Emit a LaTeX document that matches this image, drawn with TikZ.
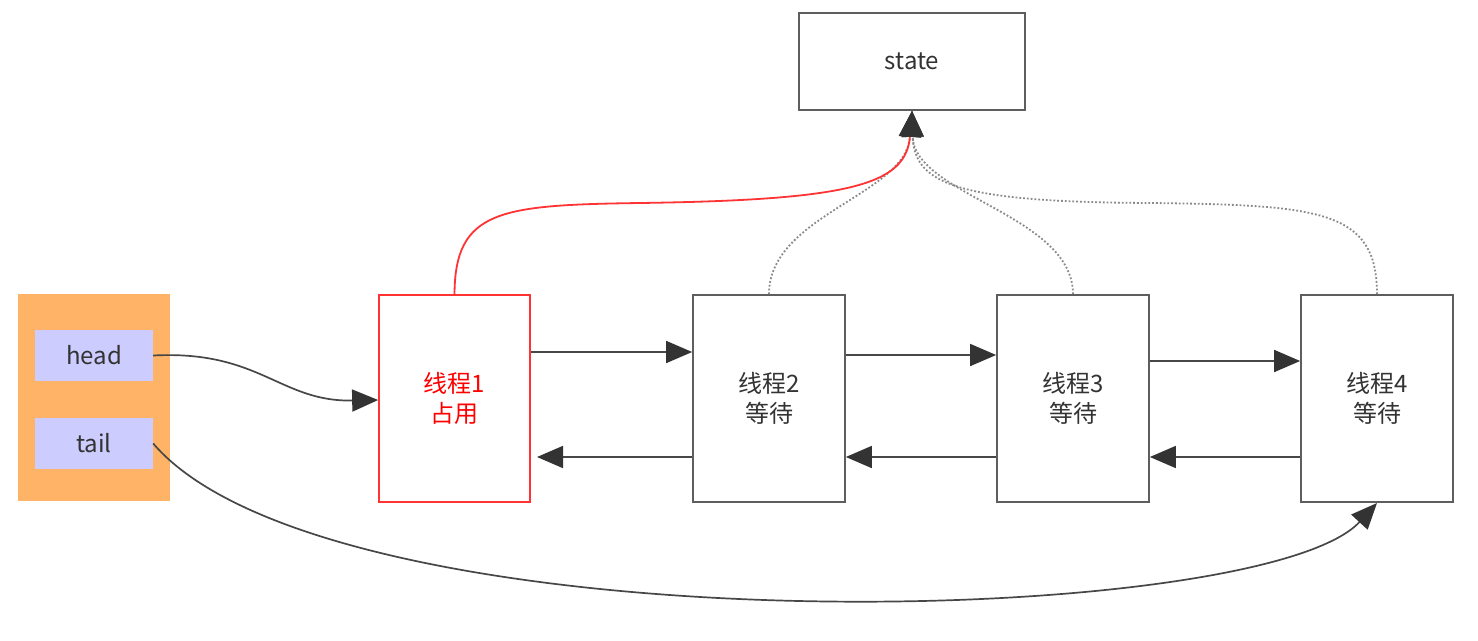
\documentclass[tikz,border=0pt]{standalone}
\usepackage{fontspec}
\setmainfont{Noto Sans CJK SC}
\usetikzlibrary{arrows.meta}
\definecolor{boxline}{HTML}{5E5E5E}
\definecolor{txt}{HTML}{333333}
\definecolor{orangebg}{HTML}{FFB366}
\definecolor{lilac}{HTML}{CCCCFF}
\definecolor{redline}{HTML}{FF3333}
\definecolor{dotgray}{HTML}{8A8A8A}
\tikzset{
  box/.style={draw=boxline, line width=1.7pt, fill=white, inner sep=0pt, text=txt,
    font=\fontsize{24}{30}\selectfont, align=center},
  ptr/.style={fill=lilac, draw=none, inner sep=0pt, text=txt, minimum width=118pt, minimum height=51pt,
    font=\fontsize{24}{30}\selectfont},
  tip/.style={-{Triangle[length=26pt,width=22pt,color=txt,fill=txt]}},
  conn/.style={draw=txt!90!white, line width=1.7pt, tip},
  dotconn/.style={draw=dotgray, line width=1.8pt, dotted, tip},
  redconn/.style={draw=redline, line width=1.8pt, tip},
}
\begin{document}
\begin{tikzpicture}[x=1pt,y=-1pt]
\useasboundingbox (0,0) rectangle (1478,640);
\node[box, minimum width=226pt, minimum height=97pt] (state) at (912,61.5) {state};
\node[fill=orangebg, draw=none, minimum width=152pt, minimum height=207pt, inner sep=0pt] (queue) at (94,397.5) {};
\node[ptr] (head) at (94,355.5) {head};
\node[ptr] (tail) at (94,443.5) {tail};
\node[box, draw=redline, text=red, minimum width=151pt, minimum height=207pt] (t1) at (454.5,398.5) {线程1\\占用};
\node[box, minimum width=152pt, minimum height=207pt] (t2) at (769,398.5) {线程2\\等待};
\node[box, minimum width=152pt, minimum height=207pt] (t3) at (1073,398.5) {线程3\\等待};
\node[box, minimum width=152pt, minimum height=207pt] (t4) at (1377,398.5) {线程4\\等待};
% forward / backward links
\draw[conn] (t1.east |- 0,352) -- (t2.west |- 0,352);
\draw[conn] (t2.west |- 0,457) -- (537,457);
\draw[conn] (t2.east |- 0,355) -- (t3.west |- 0,355);
\draw[conn] (t3.west |- 0,457) -- (t2.east |- 0,457);
\draw[conn] (t3.east |- 0,361) -- (t4.west |- 0,361);
\draw[conn] (t4.west |- 0,457) -- (t3.east |- 0,457);
% head / tail
\draw[conn] (head.east) .. controls (260,350) and (280,402) .. (t1.west |- 0,400);
\draw[conn] (tail.east) .. controls (330,650) and (1260,630) .. (t4.south |- 0,503);
% to state
\draw[dotconn] (t2.north) .. controls (769,215) and (906,195) .. (state.south);
\draw[dotconn] (t3.north) .. controls (1073,215) and (914,195) .. (state.south);
\draw[dotconn] (t4.north) .. controls (1377,210) and (1320,205) .. (1150,203) .. controls (960,202) and (914,185) .. (state.south);
\draw[redconn] (t1.north) .. controls (455,210) and (500,205) .. (640,203) .. controls (850,200) and (906,185) .. (state.south);
\end{tikzpicture}
\end{document}
